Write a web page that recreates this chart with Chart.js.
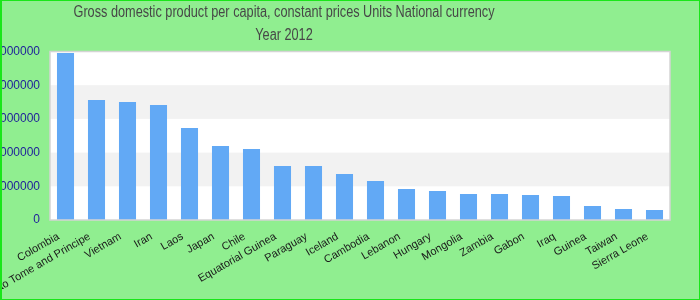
<!DOCTYPE html>
<html>
<head>
<meta charset="utf-8">
<script src="https://cdn.jsdelivr.net/npm/chart.js@4/dist/chart.umd.min.js"></script>
<style>
  html, body { margin: 0; padding: 0; background: #90ee90; }
  #wrap { position: relative; width: 700px; height: 300px; background: #90ee90; }
  #wrap::after {
    content: ''; position: absolute; left: 0; top: 0; right: 0; bottom: 0;
    border: 1px solid #19e619; border-left-width: 2px; pointer-events: none;
  }
  canvas { display: block; }
</style>
</head>
<body>
<div id="wrap"><canvas id="chart" width="700" height="300"></canvas></div>
<script>
const TITLE_LINES = ['Gross domestic product per capita, constant prices Units National currency', 'Year 2012'];

const COUNTRIES = ['Colombia', 'Sao Tome and Principe', 'Vietnam', 'Iran', 'Laos', 'Japan', 'Chile',
  'Equatorial Guinea', 'Paraguay', 'Iceland', 'Cambodia', 'Lebanon', 'Hungary', 'Mongolia', 'Zambia',
  'Gabon', 'Iraq', 'Guinea', 'Taiwan', 'Sierra Leone'];

const GDP_PER_CAPITA = [9910000, 7120000, 7000000, 6820000, 5460000, 4390000, 4210000,
  3200000, 3200000, 2730000, 2310000, 1840000, 1720000, 1540000, 1540000,
  1480000, 1420000, 830000, 650000, 590000];

const Y_MAX  = 10000000;
const Y_STEP = 2000000;

const BAR_COLOR  = '#62a9f5';
const TICK_BLUE  = '#1e1e9a';

// white / light grey stripes between y ticks, plus a thin frame
const bandsPlugin = {
  id: 'bands',
  beforeDatasetsDraw(chart) {
    const { ctx, chartArea: a, scales: { y } } = chart;
    ctx.save();
    ctx.fillStyle = '#ffffff';
    ctx.fillRect(a.left, a.top, a.right - a.left, a.bottom - a.top);
    const ticks = y.ticks.map(t => t.value).sort((p, q) => q - p);
    ctx.fillStyle = '#f2f2f2';
    for (let i = 1; i < ticks.length - 1; i += 2) {
      const top = y.getPixelForValue(ticks[i]);
      const bot = y.getPixelForValue(ticks[i + 1]);
      ctx.fillRect(a.left, top, a.right - a.left, bot - top);
    }
    ctx.restore();
  },
  afterDatasetsDraw(chart) {
    const { ctx, chartArea: a } = chart;
    ctx.save();
    ctx.strokeStyle = '#d4d4d4';
    ctx.lineWidth = 1.5;
    ctx.strokeRect(a.left, a.top, a.right - a.left, a.bottom - a.top);
    ctx.restore();
  }
};

// the reference title is narrow and sits left of centre, so draw it ourselves
const titlePlugin = {
  id: 'offTitle',
  afterDraw(chart) {
    const ctx = chart.ctx;
    ctx.save();
    ctx.fillStyle = '#474747';
    ctx.font = '16px Arial, "Liberation Sans", sans-serif';
    ctx.textAlign = 'center';
    ctx.textBaseline = 'middle';
    const sx = 421 / ctx.measureText(TITLE_LINES[0]).width;
    ctx.translate(284, 0);
    ctx.scale(sx, 1);
    ctx.fillText(TITLE_LINES[0], 0, 13);
    ctx.fillText(TITLE_LINES[1], 0, 36);
    ctx.restore();
  }
};

new Chart(document.getElementById('chart'), {
  type: 'bar',
  data: {
    labels: COUNTRIES,
    datasets: [{
      data: GDP_PER_CAPITA,
      backgroundColor: BAR_COLOR,
      borderWidth: 0,
      categoryPercentage: 1,
      barPercentage: 0.55,
    }]
  },
  options: {
    responsive: false,
    animation: false,
    layout: { padding: { top: 51.5, right: 30, left: 0, bottom: 0 } },
    plugins: { legend: { display: false }, tooltip: { enabled: false }, title: { display: false } },
    scales: {
      x: {
        grid: { display: false, drawTicks: false },
        border: { display: false },
        afterFit: s => { s.height = 80; },
        ticks: {
          autoSkip: false, minRotation: 30, maxRotation: 30, padding: 10, labelOffset: -7,
          color: '#1a1a1a',
          font: { family: 'Arial, "Liberation Sans", sans-serif', size: 11 },
        }
      },
      y: {
        min: 0, max: Y_MAX,
        grid: { display: false, drawTicks: false },
        border: { display: false },
        afterFit: s => { s.width = 50; },
        ticks: {
          stepSize: Y_STEP, padding: 10,
          color: TICK_BLUE,
          font: { family: 'Arial, "Liberation Sans", sans-serif', size: 12 },
          callback: v => String(v),
        }
      }
    }
  },
  plugins: [bandsPlugin, titlePlugin]
});
</script>
</body>
</html>
